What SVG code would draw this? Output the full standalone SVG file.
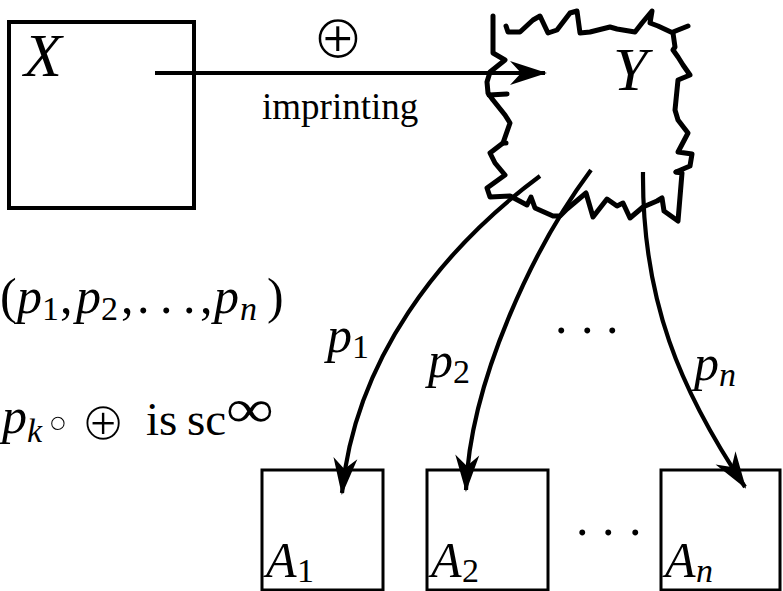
<svg xmlns="http://www.w3.org/2000/svg" width="783" height="591" viewBox="0 0 783 591">
<style>
  .box { fill: none; stroke: #000; stroke-width: 4; }
  .abox { fill: none; stroke: #000; stroke-width: 3; }
  .conn { fill: none; stroke: #000; stroke-width: 4.2; }
  .blob { fill: none; stroke: #000; stroke-width: 5; stroke-linejoin: round; stroke-linecap: round; }
  .mi { font-family: "Liberation Serif", "Times New Roman", serif; font-style: italic; fill: #000; }
  .rm { font-family: "Liberation Serif", "Times New Roman", serif; fill: #000; }
  .sym { font-family: "DejaVu Sans", sans-serif; fill: #000; stroke: #fff; stroke-width: 2; }
</style>
<defs>
  <marker id="ah" markerUnits="userSpaceOnUse" orient="auto" viewBox="-40 -15 45 30" markerWidth="45" markerHeight="30" refX="-2" refY="0">
    <path d="M0,0 L-37,-12 L-26,0 L-37,12 Z" fill="#000"/>
  </marker>
</defs>

<g id="nodeX">
  <rect class="box" x="9" y="22" width="185" height="186"/>
  <text class="mi" x="24" y="76" font-size="62">X</text>
</g>

<g id="nodeY">
  <path class="blob" d="M493,16 L493,53 L505,60 L490,72 L487,82 L488,93 L493,100 L505,115 L510,123 L503,143 L490,153 L495,163 L505,175 L487,188 L490,197 L510,196 L527,205 L531,197 L535,208 L553,216 L560,216 L567,209 L586,193 L593,217 L607,199 L617,206 L623,203 L630,218 L643,207 L657,201 L662,198 L664,211 L678,221 L682,173 L676,172 L690,166 L692,154 L678,152 L688,133 L678,120 L675,110 L678,80 L690,75 L683,65 L678,57 L673,50 L675,47 L673,33 L658,26 L650,23 L652,11 L642,23 L635,32 L617,29 L610,27 L590,32 L580,33 L577,11 L570,13 L557,30 L548,33 L540,16 L533,20 L520,32 L508,32 L506,26"/>
  <path class="blob" stroke-width="7.5" d="M489,95 L507,94 M673,32 L688,26 M676,172 L679,172 M503,143 L506,143"/>
  <text class="mi" x="613" y="90" font-size="62">Y</text>
</g>

<g id="nodeA1">
  <rect class="abox" x="262" y="470" width="121" height="120"/>
  <text class="mi" x="266" y="577" font-size="50">A</text>
  <text class="rm" x="297" y="582" font-size="34">1</text>
</g>
<g id="nodeA2">
  <rect class="abox" x="427" y="470" width="121" height="120"/>
  <text class="mi" x="431" y="577" font-size="50">A</text>
  <text class="rm" x="462" y="582" font-size="34">2</text>
</g>
<g id="nodeAn">
  <rect class="abox" x="661" y="470" width="119" height="120"/>
  <text class="mi" x="665" y="577" font-size="50">A</text>
  <text class="mi" x="696" y="582" font-size="34">n</text>
</g>

<g id="connectors">
  <line class="conn" x1="155" y1="73" x2="545" y2="73" marker-end="url(#ah)"/>
  <path class="conn" d="M540,176 C440,250 355,360 342,493" marker-end="url(#ah)"/>
  <path class="conn" d="M591,170 C535,245 470,380 466,490" marker-end="url(#ah)"/>
  <path class="conn" d="M643,172 C642,300 680,390 745,487" marker-end="url(#ah)"/>
</g>

<g id="labels">
  <text class="sym" x="338" y="58" font-size="62" text-anchor="middle">⊕</text>
  <text class="rm" x="262" y="119" font-size="37">imprinting</text>

  <text class="mi" x="327" y="352" font-size="50">p</text>
  <text class="rm" x="352" y="358" font-size="34">1</text>
  <text class="mi" x="428" y="377" font-size="50">p</text>
  <text class="rm" x="453" y="383" font-size="34">2</text>
  <text class="mi" x="694" y="380" font-size="50">p</text>
  <text class="mi" x="719" y="386" font-size="34">n</text>
  <text class="rm" x="555 581 606" y="333" font-size="50">...</text>
  <text class="rm" x="576 602 629" y="535" font-size="50">...</text>

  <text class="rm" x="0" y="313" font-size="50">(</text>
  <text class="mi" x="17" y="313" font-size="50">p</text>
  <text class="rm" x="42" y="320" font-size="34">1</text>
  <text class="rm" x="60" y="313" font-size="50">,</text>
  <text class="mi" x="76" y="313" font-size="50">p</text>
  <text class="rm" x="101" y="320" font-size="34">2</text>
  <text class="rm" x="121" y="313" font-size="50">,</text>
  <text class="rm" x="137 160 183" y="313" font-size="50">...</text>
  <text class="rm" x="200" y="313" font-size="50">,</text>
  <text class="mi" x="214" y="313" font-size="50">p</text>
  <text class="mi" x="240" y="320" font-size="34">n</text>
  <text class="rm" x="267" y="313" font-size="50">)</text>

  <text class="mi" x="2" y="433" font-size="50">p</text>
  <text class="mi" x="27" y="442" font-size="34">k</text>
  <text class="sym" x="58" y="439" font-size="50" text-anchor="middle">∘</text>
  <text class="sym" x="103" y="440" font-size="54" text-anchor="middle">⊕</text>
  <text class="rm" x="146" y="435" font-size="47">is</text>
  <text class="rm" x="187" y="435" font-size="47">sc</text>
  <text class="rm" x="226" y="427" font-size="54" textLength="48" lengthAdjust="spacingAndGlyphs">∞</text>
</g>
</svg>
